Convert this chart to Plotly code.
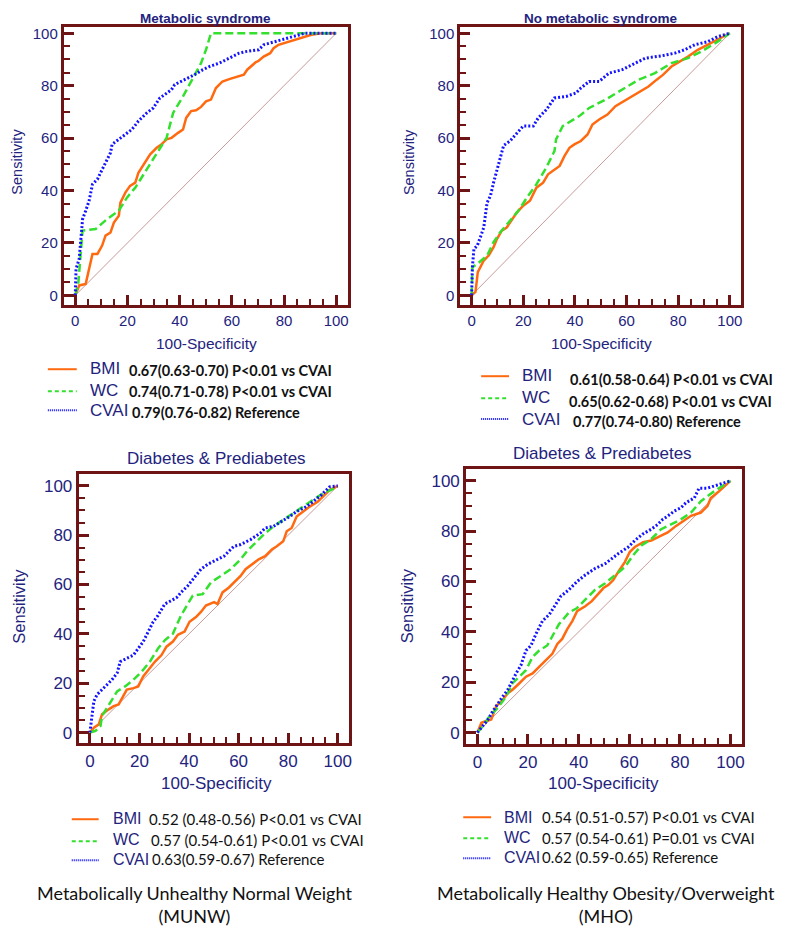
import plotly.graph_objects as go

W, H = 787, 928
OFF = 8  # page body margin of the browser
FW, FH = W - OFF, H - OFF

# ---------------- data ----------------
# Panel 1: Metabolic syndrome (MUNW)
p1_bmi_x = [0, 1.5, 4, 4.7, 6.6, 8.5, 10.3, 11.6, 13.5, 14.8, 16.7, 17.3, 19.2, 21, 23, 24.2, 26.8, 28.7, 31.2, 33, 35, 36.9, 39.4, 41.3, 42.5, 44.4, 46.3, 48.2, 50.1, 52, 53.9, 56.4, 59, 62.1, 64.6, 65.9, 69.1, 70.3, 72.2, 74.7, 76, 77.9, 81.7, 85.5, 90.5, 94.3, 100]
p1_bmi_y = [0, 3.8, 4.4, 7.6, 15.8, 15.8, 19, 22.8, 24, 27.8, 30.4, 35.4, 39.2, 41.8, 43, 46.8, 50.6, 53.8, 56.3, 57.6, 59.5, 60.1, 62, 63.3, 67.7, 70.3, 70.6, 71.9, 74, 74.7, 79.1, 81.6, 82.5, 83.5, 84.2, 86.1, 88.9, 89.5, 91.1, 92.4, 94.3, 95.6, 96.8, 98.1, 99.4, 100, 100]
p1_wc_x = [0, 1.2, 2.8, 7.8, 12.2, 16.7, 19.8, 23, 27.4, 32.4, 35, 37.5, 41.3, 45.1, 48.2, 50.1, 52, 100]
p1_wc_y = [0, 5, 24.7, 25.3, 29.1, 32.3, 37.3, 41.1, 48.1, 56.3, 60.1, 69.6, 75.9, 82.9, 88.6, 93.7, 100, 100]
p1_cvai_x = [0, 0.3, 1.5, 2.8, 4, 5.3, 6.6, 8.5, 9.7, 11.6, 13.5, 14.1, 16.7, 19.2, 21.7, 24.2, 27.4, 29.9, 32.4, 34.3, 36.9, 38.1, 40.7, 43.2, 45.7, 48.9, 51.4, 55.2, 59, 62.8, 65.3, 70.3, 72.2, 76.6, 82.9, 88, 100]
p1_cvai_y = [0, 10.1, 13.9, 29.1, 32.3, 36.1, 42.4, 44.3, 46.8, 50.6, 54.4, 57.6, 59.5, 61.4, 63.3, 66.5, 69.6, 71.5, 75.3, 76.6, 78.5, 80.4, 81.6, 82.9, 84.2, 86.1, 87.3, 88.6, 90.5, 92.4, 93, 93.7, 95.6, 96.8, 98.7, 100, 100]

# Panel 2: No metabolic syndrome (MHO)
p2_bmi_x = [0, 1.5, 2.4, 3.4, 4.7, 6.6, 8.5, 9.8, 11.7, 13.6, 15.6, 17.5, 20, 22.6, 25.1, 27.7, 29.6, 32.1, 34.1, 36, 37.9, 39.8, 42.3, 44.9, 46.8, 49.4, 52.6, 55.7, 58.9, 62.1, 65.3, 68.5, 71.7, 74.2, 77.4, 80.6, 83.8, 87.6, 91.5, 95.3, 100]
p2_bmi_y = [0, 1.3, 8.9, 10.8, 13.3, 15.2, 18.4, 21.5, 24.7, 25.9, 29.1, 31.6, 34.2, 36.1, 41.1, 43, 46.2, 48.1, 49.4, 53.2, 56.3, 57.6, 58.9, 61.4, 65.2, 67.1, 69, 72.2, 74.1, 75.9, 77.8, 79.7, 82.3, 84.2, 87.3, 89.2, 91.1, 93.7, 95.6, 97.5, 100]
p2_wc_x = [0, 0.3, 2.2, 6, 8.5, 11.1, 14.3, 18.1, 21.9, 25.1, 28.9, 32.1, 32.7, 35.3, 41.7, 45.5, 51.9, 58.3, 64.7, 71, 77.4, 83.8, 88.9, 95.3, 100]
p2_wc_y = [0, 10.8, 12, 15.2, 20.3, 24.1, 27.8, 32.3, 38, 42.4, 48.7, 55.1, 59.5, 64.6, 68.4, 71.5, 74.7, 78.5, 82.3, 84.8, 88.6, 90.5, 93, 96.8, 100]
p2_cvai_x = [0, 0.3, 0.9, 2.2, 3.4, 4.7, 6, 7.3, 8.5, 9.8, 11.1, 12.4, 14.9, 17.5, 20, 23.9, 25.8, 29, 32.1, 36.6, 40.4, 42.3, 45.5, 49.4, 53.2, 58.3, 63.4, 67.3, 73.6, 78.7, 82.5, 86.4, 91.5, 95.3, 100]
p2_cvai_y = [0, 10.8, 17.7, 19, 22.2, 25.9, 35.4, 38, 43, 48.1, 53.2, 57.2, 58.9, 62, 64.6, 64.6, 67.7, 70.9, 75.3, 75.9, 77.2, 79.1, 81.6, 81.6, 84.8, 86.1, 88.6, 90.5, 91.4, 92.4, 93.7, 95.6, 96.8, 98.7, 100]

# Panel 3: Diabetes & Prediabetes (MUNW)
p3_bmi_x = [0, 1.6, 3.6, 4.9, 7.6, 9.6, 11.6, 12.9, 14.9, 17.6, 19.5, 21.5, 23.5, 26.2, 28.9, 30.9, 33.5, 35.5, 38.2, 40.2, 42.8, 44.8, 46.8, 50.1, 51.5, 53.5, 56.1, 58.8, 60.8, 62.8, 65.4, 68.1, 70.7, 73.4, 75.4, 78, 79.4, 81.4, 83.4, 86, 88.7, 92, 94, 96.7, 100]
p3_bmi_y = [0, 2, 3.3, 7.4, 9.4, 10.7, 11.4, 14, 17.4, 18, 18.7, 22.7, 25.4, 28.7, 31.4, 34.8, 36.9, 39.6, 40.9, 44.9, 46.8, 48.9, 51.5, 52.9, 52.1, 56.8, 58.8, 61.5, 63.5, 66.2, 68.2, 70.2, 71.5, 74.2, 75.5, 77.5, 81.6, 82.9, 87.6, 89.6, 91.6, 93.6, 95.6, 98.3, 100]
p3_wc_x = [0, 2.3, 4.3, 4.9, 6.9, 8.9, 11, 14.2, 17.6, 20.9, 24.2, 27.5, 30.2, 33.5, 36.8, 41.5, 45.5, 48.8, 52.8, 56.8, 60.8, 63.4, 66.8, 70.1, 74.1, 78.1, 82.1, 86, 90, 94, 100]
p3_wc_y = [0, 0.7, 2.7, 6.7, 10, 13.4, 16.7, 18.7, 21.4, 24.7, 28.7, 34.1, 37.4, 40.1, 47.5, 55.5, 56.1, 60.8, 63.5, 66.2, 70.2, 73.5, 76.9, 80.2, 83.6, 86.2, 88.9, 91.6, 94.3, 96.9, 99.6]
p3_cvai_x = [0, 0.3, 1.6, 2.9, 4.9, 6.9, 8.9, 11, 12.2, 14.9, 17.6, 19.5, 21.5, 23.5, 25.5, 27.5, 30.2, 32.9, 35.1, 36.8, 39.5, 42.1, 44.8, 47.5, 50.1, 54.1, 58.1, 60.8, 64.8, 68.8, 70.7, 74.1, 77.4, 80.7, 83.4, 87.4, 90, 93.4, 96.7, 100]
p3_cvai_y = [0, 2, 12.7, 15.4, 17.4, 19.4, 21.4, 24.1, 28.7, 30.1, 31.4, 34.1, 36.8, 40.8, 44.8, 47.5, 52.1, 53.5, 54.8, 56.8, 59.5, 62.8, 66.2, 68.2, 69.5, 71.5, 75.5, 76.2, 78.2, 80.9, 82.9, 83.6, 85.6, 87.6, 89.6, 91.6, 93.6, 96.3, 99.6, 100]

# Panel 4: Diabetes & Prediabetes (MHO)
p4_bmi_x = [0, 1.6, 3.5, 5.5, 7.4, 10, 12, 13.9, 16.6, 19.2, 21.8, 24.4, 27, 29.6, 31.6, 33.5, 35.5, 37.5, 39.4, 42.6, 45.2, 47.8, 49.8, 51.8, 53.7, 55.7, 58.3, 60.2, 62.2, 65.5, 68.7, 72.6, 75.2, 78.5, 81.7, 84.4, 88.3, 90.9, 92.2, 95.4, 100]
p4_bmi_y = [0, 3.9, 4.6, 5.2, 10.4, 13, 15.6, 17, 19.6, 22.2, 23.5, 26.1, 28.7, 31.3, 35.2, 37.2, 41.1, 44.3, 48.2, 50.2, 52.2, 55.4, 57.4, 58.7, 60.6, 63.9, 67.8, 71.7, 73.7, 75.6, 76.3, 78.2, 79.5, 82.1, 84.1, 86.1, 87.4, 90, 93.2, 95.8, 100]
p4_wc_x = [0, 2.2, 4.8, 7.4, 10, 12, 13.9, 16.6, 19.2, 21.8, 24.4, 27.6, 30.2, 32.2, 36.1, 39.4, 42.6, 46.5, 50.5, 54.4, 58.3, 61.5, 64.8, 68.7, 72.6, 76.5, 80.4, 84.4, 88.3, 93.5, 100]
p4_wc_y = [0, 2.6, 6.5, 9.1, 12.4, 15.6, 19.6, 22.2, 24.8, 30, 32.6, 34.6, 39.1, 43, 47.6, 49.5, 52.8, 56.7, 59.3, 62.6, 65.8, 70.4, 74.3, 76.9, 80.8, 82.7, 84.7, 87.4, 91.9, 95.8, 100]
p4_cvai_x = [0, 2.2, 4.2, 6.1, 8.1, 10, 12, 13.3, 15.3, 17.2, 19.2, 21.2, 23.1, 25.7, 28.4, 30.9, 32.9, 36.1, 39.4, 42.6, 46.5, 50.5, 53.1, 55.7, 59.6, 62.2, 65.4, 68.7, 71.3, 73.2, 75.2, 77.8, 80.4, 82.4, 85.7, 87.6, 90.9, 94.8, 100]
p4_cvai_y = [0, 2.6, 5.2, 8.5, 11.7, 14.3, 17, 19.6, 23.5, 26.7, 32.6, 34.6, 39.1, 44.3, 46.9, 50.8, 54.1, 56.7, 60, 62.6, 65.2, 67.1, 69.1, 71.1, 73.7, 76.3, 78.9, 80.8, 82.7, 84.7, 86, 88, 89.3, 91.3, 93.2, 97.1, 97.1, 98.4, 100]

ref_x = [0, 100]
ref_y = [0, 100]

panel_titles = ["Metabolic syndrome", "No metabolic syndrome",
                "Diabetes & Prediabetes", "Diabetes & Prediabetes"]
series_names = ["BMI", "WC", "CVAI"]
p1_stats = ["0.67(0.63-0.70) P<0.01 vs CVAI", "0.74(0.71-0.78) P<0.01 vs CVAI", "0.79(0.76-0.82) Reference"]
p2_stats = ["0.61(0.58-0.64) P<0.01 vs CVAI", "0.65(0.62-0.68) P<0.01 vs CVAI", "0.77(0.74-0.80) Reference"]
p3_stats = ["0.52 (0.48-0.56) P<0.01 vs CVAI", "0.57 (0.54-0.61) P<0.01 vs CVAI", "0.63(0.59-0.67) Reference"]
p4_stats = ["0.54 (0.51-0.57) P<0.01 vs CVAI", "0.57 (0.54-0.61) P=0.01 vs CVAI", "0.62 (0.59-0.65) Reference"]
group_titles = ["Metabolically Unhealthy Normal Weight<br>(MUNW)",
                "Metabolically Healthy Obesity/Overweight<br>(MHO)"]
tick_vals = [0, 20, 40, 60, 80, 100]

# ---------------- styles ----------------
NAVY = "#23237E"
MAROON = "#6E1414"
ORANGE = "#FF6A10"
GREEN = "#33E02E"
BLUE = "#1414FF"
REFC = "#C99A9A"
ARIAL = "Liberation Sans, Arial, sans-serif"
CAL = "Lato, Carlito, sans-serif"

def px(x):
    return (x - OFF) / FW

def py(y):
    return 1 - (y - OFF) / FH

fig = go.Figure()

panels = [
    dict(series=[(p1_bmi_x, p1_bmi_y), (p1_wc_x, p1_wc_y), (p1_cvai_x, p1_cvai_y)],
         frame=(64, 349, 25, 304), xr=[-4.4, 104.4], yr=[-3.8, 102.4], tf=15,
         title=panel_titles[0], tbold=True, tpos=(206, 17), tsize=13.5,
         xt=(207, 342), xts=15.5, st=(17, 160), sts=14.5,
         sw=(48, 77, [368, 390, 409]), lab=(88, [367, 389, 409]), labs=17,
         val=([127, 127, 130], [369, 390, 411]), stats=p1_stats, vbold=True, vs=14.5),
    dict(series=[(p2_bmi_x, p2_bmi_y), (p2_wc_x, p2_wc_y), (p2_cvai_x, p2_cvai_y)],
         frame=(462, 744, 25, 304), xr=[-4.4, 104.4], yr=[-3.8, 102.4], tf=15,
         title=panel_titles[1], tbold=True, tpos=(603, 17), tsize=13.5,
         xt=(604, 342), xts=15.5, st=(410, 160), sts=14.5,
         sw=(483, 511, [375, 397, 418]), lab=(522, [374, 396, 418]), labs=17,
         val=([570, 569, 573], [378, 400, 420]), stats=p2_stats, vbold=True, vs=14.5),
    dict(series=[(p3_bmi_x, p3_bmi_y), (p3_wc_x, p3_wc_y), (p3_cvai_x, p3_cvai_y)],
         frame=(79, 350, 473, 743), xr=[-4.5, 104.4], yr=[-4.4, 104.8], tf=17,
         title=panel_titles[2], tbold=False, tpos=(217, 457), tsize=17,
         xt=(217, 783), xts=17, st=(19, 605), sts=16.5,
         sw=(72, 99, [819, 841, 860]), lab=(111, [818, 839, 859]), labs=16,
         val=([148, 150, 151], [819, 840, 859]), stats=p3_stats, vbold=False, vs=15),
    dict(series=[(p4_bmi_x, p4_bmi_y), (p4_wc_x, p4_wc_y), (p4_cvai_x, p4_cvai_y)],
         frame=(468, 745, 468, 744), xr=[-4.4, 104.6], yr=[-4.7, 104.7], tf=17,
         title=panel_titles[3], tbold=False, tpos=(605, 452), tsize=17,
         xt=(606, 783), xts=17, st=(408, 605), sts=16.5,
         sw=(465, 493, [817, 838, 858]), lab=(504, [817, 837, 857]), labs=16,
         val=([542, 542, 542], [817, 838, 857]), stats=p4_stats, vbold=False, vs=15),
]

line_styles = [dict(color=ORANGE, width=2.5, dash="solid"),
               dict(color=GREEN, width=2.5, dash="8px,4px"),
               dict(color=BLUE, width=3, dash="2px,2px")]
swatch_styles = [dict(color=ORANGE, width=2, dash="solid"),
                 dict(color=GREEN, width=2, dash="4px,3px"),
                 dict(color=BLUE, width=2, dash="1px,1px")]

annotations = []
shapes = []
layout_axes = {}

for i, p in enumerate(panels):
    n = "" if i == 0 else str(i + 1)
    xa, ya = "x" + n, "y" + n
    fig.add_trace(go.Scatter(x=ref_x, y=ref_y, mode="lines", xaxis=xa, yaxis=ya,
                             line=dict(color=REFC, width=1), showlegend=False, hoverinfo="skip"))
    for (sx, sy), st, nm in zip(p["series"], line_styles, series_names):
        fig.add_trace(go.Scatter(x=sx, y=sy, mode="lines", name=nm, xaxis=xa, yaxis=ya,
                                 line=st, showlegend=False))
    l, r, t, b = p["frame"]
    common = dict(showgrid=False, zeroline=False, showline=True, linecolor=MAROON, linewidth=3,
                  mirror=True, ticks="inside", ticklen=10, tickwidth=3, tickcolor=MAROON,
                  tickvals=tick_vals, tickfont=dict(family=ARIAL, size=p["tf"], color=NAVY),
                  minor=dict(dtick=5, tick0=0, ticks="inside", ticklen=6, tickwidth=2, tickcolor=MAROON),
                  fixedrange=True)
    layout_axes["xaxis" + n] = dict(common, domain=[px(l), px(r)], range=p["xr"],
                                    anchor=ya)
    layout_axes["yaxis" + n] = dict(common, domain=[py(b), py(t)], range=p["yr"],
                                    anchor=xa)
    # panel title
    ttxt = "<b>%s</b>" % p["title"] if p["tbold"] else p["title"]
    annotations.append(dict(text=ttxt, x=px(p["tpos"][0]), y=py(p["tpos"][1]), xref="paper", yref="paper",
                            showarrow=False, xanchor="center", yanchor="middle", borderpad=0,
                            font=dict(family=ARIAL, size=p["tsize"], color=NAVY)))
    annotations.append(dict(text="100-Specificity", x=px(p["xt"][0]), y=py(p["xt"][1]), xref="paper", yref="paper",
                            showarrow=False, xanchor="center", yanchor="middle",
                            font=dict(family=ARIAL, size=p["xts"], color=NAVY)))
    annotations.append(dict(text="Sensitivity", x=px(p["st"][0]), y=py(p["st"][1]), xref="paper", yref="paper",
                            showarrow=False, xanchor="center", yanchor="middle", textangle=-90,
                            font=dict(family=ARIAL, size=p["sts"], color=NAVY)))
    x0, x1, ys = p["sw"]
    for yy, ss in zip(ys, swatch_styles):
        shapes.append(dict(type="line", xref="paper", yref="paper", x0=px(x0), x1=px(x1),
                           y0=py(yy), y1=py(yy), line=ss))
    lx, lys = p["lab"]
    for yy, nm in zip(lys, series_names):
        annotations.append(dict(text=nm, x=px(lx), y=py(yy), xref="paper", yref="paper",
                                showarrow=False, xanchor="left", yanchor="middle",
                                font=dict(family=ARIAL, size=p["labs"], color=NAVY)))
    vxs, vys = p["val"]
    for vx, vy, s in zip(vxs, vys, p["stats"]):
        txt = "<b>%s</b>" % s if p["vbold"] else s
        annotations.append(dict(text=txt, x=px(vx), y=py(vy), xref="paper", yref="paper",
                                showarrow=False, xanchor="left", yanchor="middle",
                                font=dict(family=CAL, size=p["vs"], color="#111111")))

for cx, gt in zip([195, 608], group_titles):
    annotations.append(dict(text=gt, x=px(cx), y=py(904), xref="paper", yref="paper",
                            showarrow=False, xanchor="center", yanchor="middle", align="center",
                            font=dict(family=CAL, size=18, color="#111111")))

fig.update_layout(width=FW, height=FH, margin=dict(l=0, r=0, t=0, b=0),
                  paper_bgcolor="white", plot_bgcolor="white",
                  annotations=annotations, shapes=shapes, showlegend=False, **layout_axes)

fig.write_html("out.html")
